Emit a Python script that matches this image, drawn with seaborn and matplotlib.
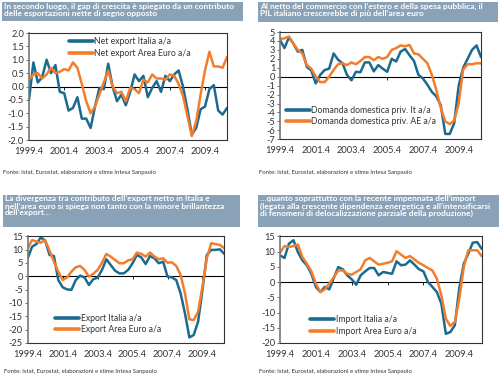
import numpy as np
import pandas as pd
import matplotlib
matplotlib.use('Agg')
import matplotlib.pyplot as plt
import seaborn as sns
from matplotlib.patches import Rectangle

# quarterly data, 1999Q4 .. 2011Q1 (46 quarters)
quarters = np.arange(46)
tick_pos = [0, 8, 16, 24, 32, 40]
tick_labels = ['1999.4', '2001.4', '2003.4', '2005.4', '2007.4', '2009.4']

net_it = [-0.5, 0.9, 0.15, 0.35, 1.0, 0.5, 0.8, -0.2, -0.25, -0.9, -0.8, -0.4,
          -1.2, -1.2, -1.55, -0.75, -0.05, -0.1, 0.85, 0.0, -0.55, -0.3, -0.7,
          -0.2, 0.45, 0.2, 0.4, -0.4, -0.05, 0.2, -0.2, 0.4, 0.2, 0.45, 0.6,
          0.0, -0.85, -1.8, -1.55, -0.85, -0.75, -0.1, 0.05, -0.9, -1.05, -0.8]
net_ea = [0.25, 0.45, 0.5, 0.3, 0.45, 0.7, 0.5, 0.55, 0.65, 0.6, 0.9, 0.7,
          0.1, -0.55, -1.0, -0.75, -0.3, 0.15, 0.6, 0.0, -0.25, -0.2, -0.55,
          -0.05, -0.1, -0.25, 0.25, 0.15, 0.45, 0.3, 0.3, 0.25, 0.45, 0.4, 0.1,
          -0.35, -1.1, -1.85, -1.3, -0.3, 0.6, 1.3, 0.75, 0.75, 0.7, 1.1]

dom_it = [4.1, 3.2, 4.4, 3.7, 2.8, 3.0, 1.1, 0.7, -0.75, 0.2, 0.75, 0.9,
          2.6, 1.9, 1.5, 0.2, -0.4, 0.55, 0.5, 1.6, 1.6, 0.6, 1.3, 0.9, 0.55,
          2.0, 1.7, 2.8, 3.1, 2.4, 1.75, 0.2, -0.2, -0.9, -1.7, -2.2, -3.2,
          -6.4, -6.4, -5.2, -1.0, 1.0, 2.0, 3.0, 3.5, 2.2]
dom_ea = [4.2, 4.3, 4.5, 3.7, 3.0, 2.6, 1.3, 0.9, 0.0, -0.6, -0.6, 0.0,
          0.75, 1.4, 1.5, 1.3, 1.6, 1.4, 1.75, 2.2, 2.2, 1.85, 2.2, 2.0, 2.2,
          3.0, 3.2, 3.5, 3.4, 3.55, 2.6, 2.5, 2.0, 1.5, 0.2, -1.5, -3.5,
          -5.0, -5.3, -4.9, -3.0, 0.8, 1.4, 1.4, 1.5, 1.5]

exp_it = [6.75, 11.1, 12.1, 14.6, 13.4, 8.0, 7.6, -1.4, -4.1, -4.9, -5.1, -1.4,
          0.25, -0.4, -3.25, -1.1, -0.5, 2.4, 6.4, 4.25, 2.1, 1.1, 1.1, 2.4,
          4.9, 8.0, 7.1, 4.6, 7.6, 6.75, 4.9, 5.5, -0.1, -0.4, -1.4, -6.4,
          -13.9, -22.9, -22.0, -17.0, -5.1, 8.0, 9.9, 9.9, 10.1, 8.4]
exp_ea = [10.5, 13.6, 13.0, 12.6, 13.6, 9.6, 5.5, 1.75, -1.4, -0.4, 1.75, 3.4,
          3.9, 2.4, -0.1, 0.9, 2.4, 5.1, 8.4, 7.4, 6.1, 4.9, 4.9, 6.0, 6.4,
          8.9, 8.4, 7.4, 8.9, 7.4, 6.4, 6.75, 5.1, 5.25, 3.9, 0.5, -6.4,
          -16.1, -16.4, -13.25, -3.9, 6.75, 12.4, 12.1, 11.75, 10.5]

imp_it = [8.75, 7.9, 12.6, 13.7, 9.8, 7.1, 5.5, 2.7, -1.6, -3.3, -1.6, -2.4,
          1.3, 4.9, 4.2, 2.2, 0.9, -0.9, 2.2, 3.5, 4.6, 4.6, 2.2, 3.3, 3.0,
          2.7, 6.8, 5.5, 5.7, 7.1, 5.7, 4.2, 3.5, 0.0, -1.6, -3.3, -7.1,
          -17.0, -16.4, -14.2, -2.0, 6.0, 9.3, 12.9, 13.1, 10.9]
imp_ea = [9.6, 11.8, 11.5, 11.8, 12.3, 8.2, 6.0, 3.5, -0.5, -3.3, -2.4, -0.5,
          1.6, 3.8, 3.8, 2.7, 2.4, 3.3, 4.2, 7.1, 7.9, 6.8, 5.7, 6.0, 6.3,
          6.8, 10.1, 9.0, 7.9, 8.5, 7.4, 6.3, 5.5, 4.6, 3.8, 1.1, -4.4,
          -12.0, -14.4, -13.1, -5.5, 4.9, 10.4, 10.4, 10.4, 8.5]

sns.set_style('white')
plt.rcParams['font.family'] = ['Lato', 'DejaVu Sans']
plt.rcParams['axes.unicode_minus'] = False

blue = '#1b6b8f'
orange = '#f47d2c'
box_col = '#8aa2b7'
txt_col = '#333333'
fonte = 'Fonte: Istat, Eurostat, elaborazioni e stime Intesa Sanpaolo'

W, H = 500, 377
fig = plt.figure(figsize=(5.0, 3.77), dpi=100)


def rect(x0, y0, x1, y1):
    # pixel box -> figure fraction
    return [x0 / W, 1 - y1 / H, (x1 - x0) / W, (y1 - y0) / H]


panels = [
    dict(ax=(29, 33, 227, 140), box=(2, 2, 243, 21),
         title='In secondo luogo, il gap di crescita è spiegato da un contributo\n'
               'delle esportazioni nette di segno opposto',
         names=['Net export Italia a/a', 'Net export Area Euro a/a'],
         vals=[net_it, net_ea], ylim=(-2, 2), yticks=np.arange(-2, 2.01, 0.5),
         fmt='{:.1f}', leg=('upper left', (0.2, 0.96)), fonte_y=172),
    dict(ax=(280, 32, 481, 139.3), box=(258, 2, 498, 22),
         title='Al netto del commercio con l’estero e della spesa pubblica, il\n'
               'PIL italiano crescerebbe di più dell’area euro',
         names=['Domanda domestica priv. It a/a', 'Domanda domestica priv. AE a/a'],
         vals=[dom_it, dom_ea], ylim=(-7, 5), yticks=np.arange(-7, 6, 1),
         fmt='{:.0f}', leg=('lower left', (0.03, 0.12)), fonte_y=172),
    dict(ax=(27.7, 236.3, 224.3, 343), box=(3, 195, 240, 227),
         title='La divergenza tra contributo dell’export netto in Italia e\n'
               'nell’area euro si spiega non tanto con la minore brillantezza\n'
               'dell’export…',
         names=['Export Italia a/a', 'Export Area Euro a/a'],
         vals=[exp_it, exp_ea], ylim=(-25, 15), yticks=np.arange(-25, 16, 5),
         fmt='{:.0f}', leg=('lower left', (0.14, 0.08)), fonte_y=371),
    dict(ax=(280, 236.3, 481.7, 343), box=(258, 195, 499, 227),
         title='…quanto soprattutto con la recente impennata dell’import\n'
               '(legata alla crescente dipendenza energetica e all’intensificarsi\n'
               'di fenomeni di delocalizzazione parziale della produzione)',
         names=['Import Italia a/a', 'Import Area Euro a/a'],
         vals=[imp_it, imp_ea], ylim=(-20, 15), yticks=np.arange(-20, 16, 5),
         fmt='{:.0f}', leg=('lower left', (0.15, 0.07)), fonte_y=371),
]

for p in panels:
    ax = fig.add_axes(rect(*p['ax']))
    df = pd.DataFrame({'q': quarters, p['names'][0]: p['vals'][0],
                       p['names'][1]: p['vals'][1]})
    df = df.melt('q', var_name='serie', value_name='val')
    sns.lineplot(data=df, x='q', y='val', hue='serie', hue_order=p['names'],
                 palette=[blue, orange], lw=1.8, ax=ax)
    ax.set_xlim(0, 45)
    ax.set_ylim(*p['ylim'])
    ax.set_yticks(p['yticks'])
    ax.set_yticklabels([p['fmt'].format(v) for v in p['yticks']])
    ax.set_xticks(tick_pos)
    ax.set_xticklabels(tick_labels)
    ax.set_xlabel('')
    ax.set_ylabel('')
    ax.tick_params(axis='x', length=0, pad=5, labelsize=6.7, labelcolor=txt_col)
    ax.tick_params(axis='y', left=True, length=2, width=0.6, pad=1.5,
                   labelsize=6.7, labelcolor=txt_col, color='#555555')
    for s in ax.spines.values():
        s.set_linewidth(0.8)
        s.set_color('#333333')
    ax.spines['left'].set_color('#777777')
    ax.spines['left'].set_linewidth(1.2)

    # zero line with small category ticks
    y0, y1 = p['ylim']
    sec = ax.secondary_xaxis(-y0 / (y1 - y0))
    sec.set_alignment('bottom')
    sec.set_xticks(tick_pos)
    sec.set_xticklabels([])
    sec.tick_params(length=2, width=0.6, color='black')
    sec.spines['bottom'].set_linewidth(0.8)
    sec.spines['bottom'].set_color('black')

    sns.move_legend(ax, p['leg'][0], bbox_to_anchor=p['leg'][1], frameon=False,
                    title=None, fontsize=6.2, handlelength=2.8, handletextpad=0.15,
                    labelspacing=0.3, borderpad=0, borderaxespad=0)
    for ln in ax.get_legend().get_lines():
        ln.set_linewidth(2.6)
    for t in ax.get_legend().get_texts():
        t.set_color(txt_col)

    bx0, by0, bx1, by1 = p['box']
    fig.add_artist(Rectangle((bx0 / W, 1 - by1 / H), (bx1 - bx0) / W,
                             (by1 - by0) / H, transform=fig.transFigure,
                             facecolor=box_col, edgecolor='none'))
    fig.text((bx0 + 2) / W, 1 - (by0 + 0.5) / H, p['title'], ha='left', va='top',
             color='white', fontweight='bold', fontsize=6.0, linespacing=1.0)
    fig.text((bx0 + 1) / W, 1 - p['fonte_y'] / H, fonte, ha='left',
             va='center', fontsize=4.3, color=txt_col)

fig.savefig('out.png', dpi=100)
